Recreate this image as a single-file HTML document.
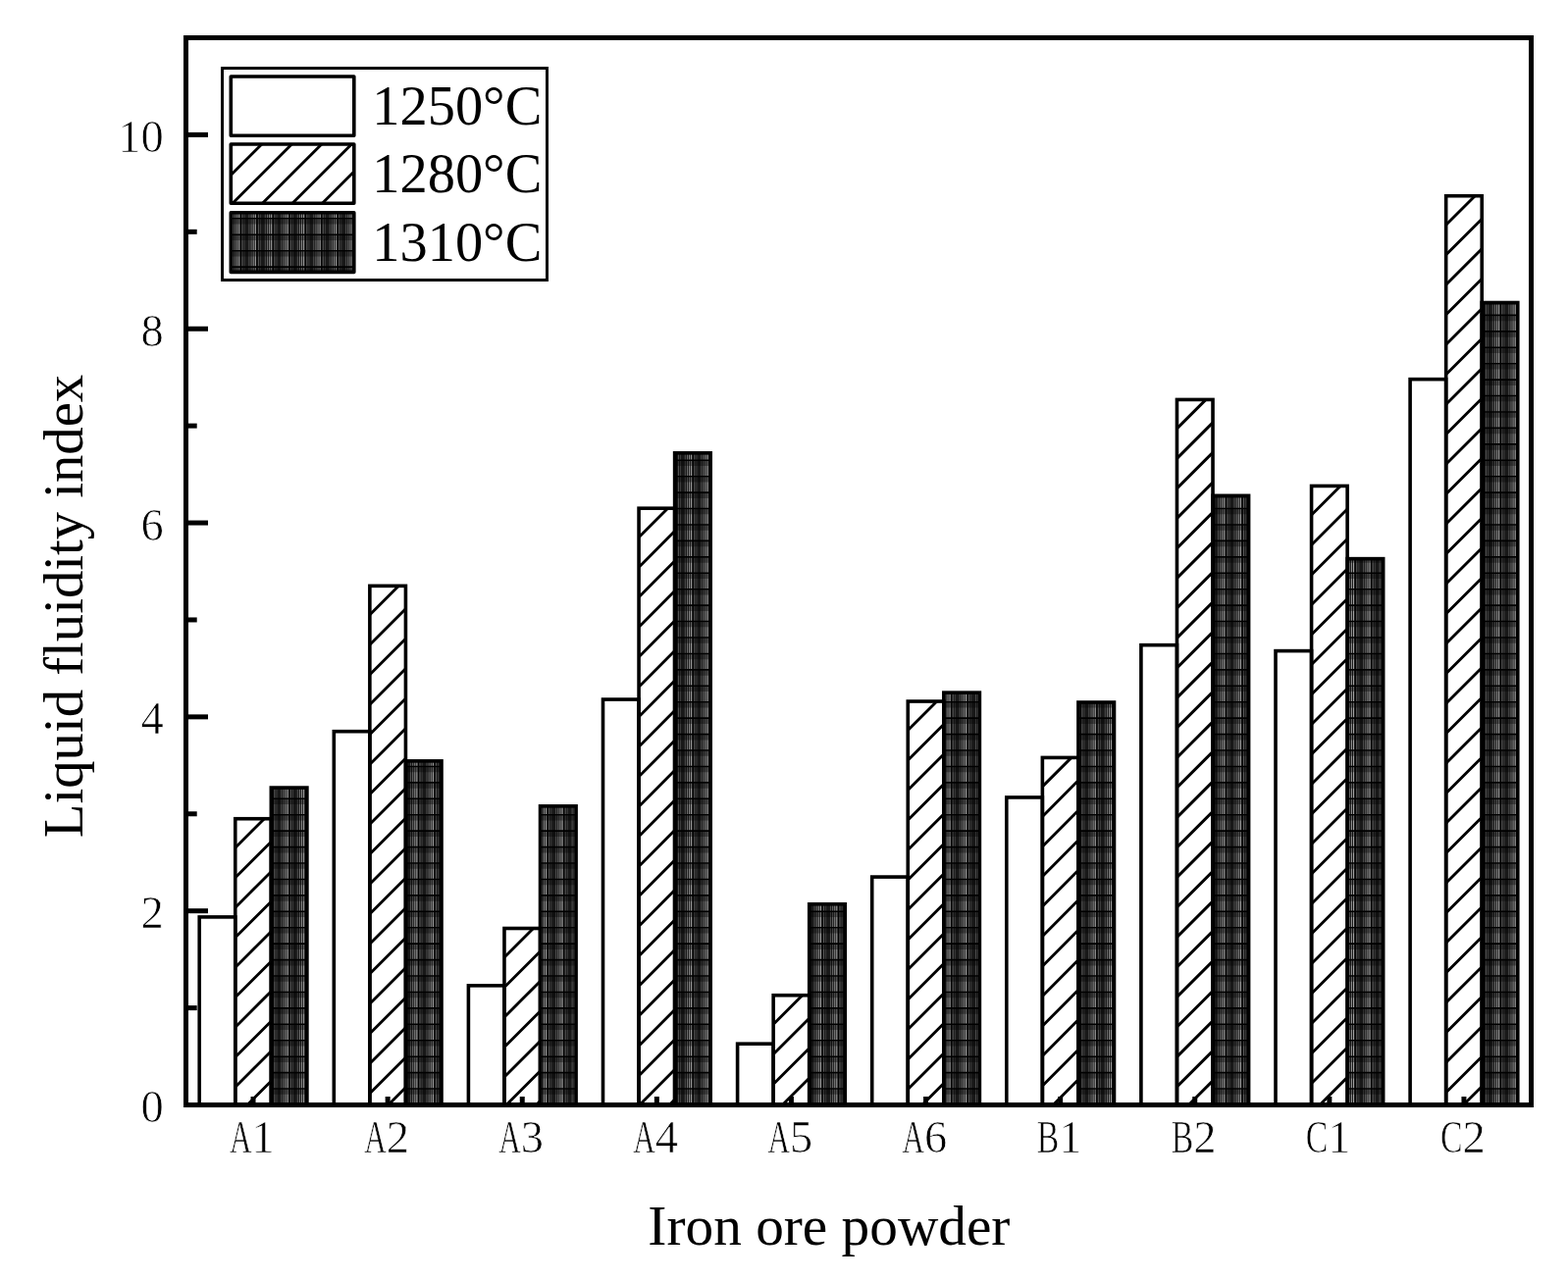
<!DOCTYPE html>
<html><head><meta charset="utf-8"><title>Liquid fluidity index</title>
<style>
html,body{margin:0;padding:0;background:#fff;}
body{width:1598px;height:1306px;overflow:hidden;}
svg{display:block;}
text{font-family:"Liberation Serif","Times New Roman",serif;fill:#000;}
.tk{font-size:46.5px;stroke:#fff;stroke-width:0.7px;}
.lb{font-size:56.7px;}
.lg{font-size:56.4px;}
</style></head><body>
<svg width="1598" height="1306" viewBox="0 0 1598 1306">
<rect width="1598" height="1306" fill="#fff"/>

<rect x="226.5" y="69.5" width="331" height="216" fill="#fff" stroke="#000" stroke-width="3"/>
<path d="M239.8 864.2L269.3 834.7M239.8 894.7L276.3 858.2M239.8 925.2L276.3 888.7M239.8 955.7L276.3 919.2M239.8 986.2L276.3 949.7M239.8 1016.7L276.3 980.2M239.8 1047.2L276.3 1010.7M239.8 1077.7L276.3 1041.2M239.8 1108.2L276.3 1071.7M252.0 1126.5L276.3 1102.2" stroke="#000" stroke-width="2.9" fill="none"/>
<path d="M376.9 626.8L406.4 597.3M376.9 657.3L413.4 620.8M376.9 687.8L413.4 651.3M376.9 718.3L413.4 681.8M376.9 748.8L413.4 712.3M376.9 779.3L413.4 742.8M376.9 809.8L413.4 773.3M376.9 840.3L413.4 803.8M376.9 870.8L413.4 834.3M376.9 901.3L413.4 864.8M376.9 931.8L413.4 895.3M376.9 962.3L413.4 925.8M376.9 992.8L413.4 956.3M376.9 1023.3L413.4 986.8M376.9 1053.8L413.4 1017.3M376.9 1084.3L413.4 1047.8M376.9 1114.8L413.4 1078.3M395.7 1126.5L413.4 1108.8" stroke="#000" stroke-width="2.9" fill="none"/>
<path d="M514.0 976.0L543.5 946.5M514.0 1006.5L550.5 969.9M514.0 1037.0L550.5 1000.4M514.0 1067.5L550.5 1030.9M514.0 1098.0L550.5 1061.4M516.0 1126.5L550.5 1091.9M546.5 1126.5L550.5 1122.4" stroke="#000" stroke-width="2.9" fill="none"/>
<path d="M651.1 547.7L680.6 518.2M651.1 578.2L687.6 541.6M651.1 608.7L687.6 572.1M651.1 639.2L687.6 602.6M651.1 669.7L687.6 633.1M651.1 700.2L687.6 663.6M651.1 730.7L687.6 694.1M651.1 761.2L687.6 724.6M651.1 791.7L687.6 755.1M651.1 822.2L687.6 785.6M651.1 852.7L687.6 816.1M651.1 883.2L687.6 846.6M651.1 913.7L687.6 877.1M651.1 944.2L687.6 907.6M651.1 974.7L687.6 938.1M651.1 1005.2L687.6 968.6M651.1 1035.7L687.6 999.1M651.1 1066.2L687.6 1029.6M651.1 1096.7L687.6 1060.1M651.8 1126.5L687.6 1090.6M682.3 1126.5L687.6 1121.1" stroke="#000" stroke-width="2.9" fill="none"/>
<path d="M788.2 1044.2L817.7 1014.7M788.2 1074.7L824.7 1038.2M788.2 1105.2L824.7 1068.7M797.4 1126.5L824.7 1099.2" stroke="#000" stroke-width="2.9" fill="none"/>
<path d="M925.3 744.5L954.8 715.0M925.3 775.0L961.8 738.5M925.3 805.5L961.8 769.0M925.3 836.0L961.8 799.5M925.3 866.5L961.8 830.0M925.3 897.0L961.8 860.5M925.3 927.5L961.8 891.0M925.3 958.0L961.8 921.5M925.3 988.5L961.8 952.0M925.3 1019.0L961.8 982.5M925.3 1049.5L961.8 1013.0M925.3 1080.0L961.8 1043.5M925.3 1110.5L961.8 1074.0M939.8 1126.5L961.8 1104.5" stroke="#000" stroke-width="2.9" fill="none"/>
<path d="M1062.4 801.9L1091.9 772.4M1062.4 832.4L1098.9 795.8M1062.4 862.9L1098.9 826.3M1062.4 893.4L1098.9 856.8M1062.4 923.9L1098.9 887.3M1062.4 954.4L1098.9 917.8M1062.4 984.9L1098.9 948.3M1062.4 1015.4L1098.9 978.8M1062.4 1045.9L1098.9 1009.3M1062.4 1076.4L1098.9 1039.8M1062.4 1106.9L1098.9 1070.3M1073.3 1126.5L1098.9 1100.8" stroke="#000" stroke-width="2.9" fill="none"/>
<path d="M1199.5 436.9L1229.0 407.4M1199.5 467.4L1236.0 430.9M1199.5 497.9L1236.0 461.4M1199.5 528.4L1236.0 491.9M1199.5 558.9L1236.0 522.4M1199.5 589.4L1236.0 552.9M1199.5 619.9L1236.0 583.4M1199.5 650.4L1236.0 613.9M1199.5 680.9L1236.0 644.4M1199.5 711.4L1236.0 674.9M1199.5 741.9L1236.0 705.4M1199.5 772.4L1236.0 735.9M1199.5 802.9L1236.0 766.4M1199.5 833.4L1236.0 796.9M1199.5 863.9L1236.0 827.4M1199.5 894.4L1236.0 857.9M1199.5 924.9L1236.0 888.4M1199.5 955.4L1236.0 918.9M1199.5 985.9L1236.0 949.4M1199.5 1016.4L1236.0 979.9M1199.5 1046.9L1236.0 1010.4M1199.5 1077.4L1236.0 1040.9M1199.5 1107.9L1236.0 1071.4M1211.4 1126.5L1236.0 1101.9" stroke="#000" stroke-width="2.9" fill="none"/>
<path d="M1336.6 525.0L1366.1 495.5M1336.6 555.5L1373.1 518.9M1336.6 586.0L1373.1 549.4M1336.6 616.5L1373.1 579.9M1336.6 647.0L1373.1 610.4M1336.6 677.5L1373.1 640.9M1336.6 708.0L1373.1 671.4M1336.6 738.5L1373.1 701.9M1336.6 769.0L1373.1 732.4M1336.6 799.5L1373.1 762.9M1336.6 830.0L1373.1 793.4M1336.6 860.5L1373.1 823.9M1336.6 891.0L1373.1 854.4M1336.6 921.5L1373.1 884.9M1336.6 952.0L1373.1 915.4M1336.6 982.5L1373.1 945.9M1336.6 1013.0L1373.1 976.4M1336.6 1043.5L1373.1 1006.9M1336.6 1074.0L1373.1 1037.4M1336.6 1104.5L1373.1 1067.9M1345.0 1126.5L1373.1 1098.4" stroke="#000" stroke-width="2.9" fill="none"/>
<path d="M1473.7 229.2L1503.2 199.7M1473.7 259.7L1510.2 223.2M1473.7 290.2L1510.2 253.7M1473.7 320.7L1510.2 284.2M1473.7 351.2L1510.2 314.7M1473.7 381.7L1510.2 345.2M1473.7 412.2L1510.2 375.7M1473.7 442.7L1510.2 406.2M1473.7 473.2L1510.2 436.7M1473.7 503.7L1510.2 467.2M1473.7 534.2L1510.2 497.7M1473.7 564.7L1510.2 528.2M1473.7 595.2L1510.2 558.7M1473.7 625.7L1510.2 589.2M1473.7 656.2L1510.2 619.7M1473.7 686.7L1510.2 650.2M1473.7 717.2L1510.2 680.7M1473.7 747.7L1510.2 711.2M1473.7 778.2L1510.2 741.7M1473.7 808.7L1510.2 772.2M1473.7 839.2L1510.2 802.7M1473.7 869.7L1510.2 833.2M1473.7 900.2L1510.2 863.7M1473.7 930.7L1510.2 894.2M1473.7 961.2L1510.2 924.7M1473.7 991.7L1510.2 955.2M1473.7 1022.2L1510.2 985.7M1473.7 1052.7L1510.2 1016.2M1473.7 1083.2L1510.2 1046.7M1473.7 1113.7L1510.2 1077.2M1491.4 1126.5L1510.2 1107.7" stroke="#000" stroke-width="2.9" fill="none"/>
<path d="M235.3 148.0L236.3 147.0M235.3 178.5L266.8 147.0M237.0 207.3L297.3 147.0M267.5 207.3L327.8 147.0M298.0 207.3L358.3 147.0M328.5 207.3L360.8 175.0M359.0 207.3L360.8 205.5" stroke="#000" stroke-width="2.9" fill="none"/>
<clipPath id="dk"><rect x="276.33" y="803.07" width="36.56" height="323.43"/><rect x="413.43" y="775.87" width="36.56" height="350.63"/><rect x="550.53" y="821.86" width="36.56" height="304.64"/><rect x="687.63" y="461.83" width="36.56" height="664.67"/><rect x="824.73" y="921.76" width="36.56" height="204.74"/><rect x="961.83" y="706.14" width="36.56" height="420.36"/><rect x="1098.93" y="716.03" width="36.56" height="410.47"/><rect x="1236.03" y="505.35" width="36.56" height="621.15"/><rect x="1373.13" y="569.64" width="36.56" height="556.86"/><rect x="1510.23" y="308.52" width="36.56" height="817.98"/><rect x="235.30" y="216.80" width="125.50" height="60.60"/></clipPath>
<g clip-path="url(#dk)">
<rect x="189.5" y="38.5" width="1371.0" height="1088.0" fill="#181818"/>
<path d="M181.10 38.5V1126.5M197.56 38.5V1126.5M214.02 38.5V1126.5M230.48 38.5V1126.5M246.94 38.5V1126.5M263.40 38.5V1126.5M279.86 38.5V1126.5M296.32 38.5V1126.5M312.78 38.5V1126.5M329.24 38.5V1126.5M345.70 38.5V1126.5M362.16 38.5V1126.5M378.62 38.5V1126.5M395.08 38.5V1126.5M411.54 38.5V1126.5M428.00 38.5V1126.5M444.46 38.5V1126.5M460.92 38.5V1126.5M477.38 38.5V1126.5M493.84 38.5V1126.5M510.30 38.5V1126.5M526.76 38.5V1126.5M543.22 38.5V1126.5M559.68 38.5V1126.5M576.14 38.5V1126.5M592.60 38.5V1126.5M609.06 38.5V1126.5M625.52 38.5V1126.5M641.98 38.5V1126.5M658.44 38.5V1126.5M674.90 38.5V1126.5M691.36 38.5V1126.5M707.82 38.5V1126.5M724.28 38.5V1126.5M740.74 38.5V1126.5M757.20 38.5V1126.5M773.66 38.5V1126.5M790.12 38.5V1126.5M806.58 38.5V1126.5M823.04 38.5V1126.5M839.50 38.5V1126.5M855.96 38.5V1126.5M872.42 38.5V1126.5M888.88 38.5V1126.5M905.34 38.5V1126.5M921.80 38.5V1126.5M938.26 38.5V1126.5M954.72 38.5V1126.5M971.18 38.5V1126.5M987.64 38.5V1126.5M1004.10 38.5V1126.5M1020.56 38.5V1126.5M1037.02 38.5V1126.5M1053.48 38.5V1126.5M1069.94 38.5V1126.5M1086.40 38.5V1126.5M1102.86 38.5V1126.5M1119.32 38.5V1126.5M1135.78 38.5V1126.5M1152.24 38.5V1126.5M1168.70 38.5V1126.5M1185.16 38.5V1126.5M1201.62 38.5V1126.5M1218.08 38.5V1126.5M1234.54 38.5V1126.5M1251.00 38.5V1126.5M1267.46 38.5V1126.5M1283.92 38.5V1126.5M1300.38 38.5V1126.5M1316.84 38.5V1126.5M1333.30 38.5V1126.5M1349.76 38.5V1126.5M1366.22 38.5V1126.5M1382.68 38.5V1126.5M1399.14 38.5V1126.5M1415.60 38.5V1126.5M1432.06 38.5V1126.5M1448.52 38.5V1126.5M1464.98 38.5V1126.5M1481.44 38.5V1126.5M1497.90 38.5V1126.5M1514.36 38.5V1126.5M1530.82 38.5V1126.5M1547.28 38.5V1126.5" stroke="#5a5a5a" stroke-width="1.05" fill="none"/>
<path d="M183.26 38.5V1126.5M199.72 38.5V1126.5M216.18 38.5V1126.5M232.64 38.5V1126.5M249.10 38.5V1126.5M265.56 38.5V1126.5M282.02 38.5V1126.5M298.48 38.5V1126.5M314.94 38.5V1126.5M331.40 38.5V1126.5M347.86 38.5V1126.5M364.32 38.5V1126.5M380.78 38.5V1126.5M397.24 38.5V1126.5M413.70 38.5V1126.5M430.16 38.5V1126.5M446.62 38.5V1126.5M463.08 38.5V1126.5M479.54 38.5V1126.5M496.00 38.5V1126.5M512.46 38.5V1126.5M528.92 38.5V1126.5M545.38 38.5V1126.5M561.84 38.5V1126.5M578.30 38.5V1126.5M594.76 38.5V1126.5M611.22 38.5V1126.5M627.68 38.5V1126.5M644.14 38.5V1126.5M660.60 38.5V1126.5M677.06 38.5V1126.5M693.52 38.5V1126.5M709.98 38.5V1126.5M726.44 38.5V1126.5M742.90 38.5V1126.5M759.36 38.5V1126.5M775.82 38.5V1126.5M792.28 38.5V1126.5M808.74 38.5V1126.5M825.20 38.5V1126.5M841.66 38.5V1126.5M858.12 38.5V1126.5M874.58 38.5V1126.5M891.04 38.5V1126.5M907.50 38.5V1126.5M923.96 38.5V1126.5M940.42 38.5V1126.5M956.88 38.5V1126.5M973.34 38.5V1126.5M989.80 38.5V1126.5M1006.26 38.5V1126.5M1022.72 38.5V1126.5M1039.18 38.5V1126.5M1055.64 38.5V1126.5M1072.10 38.5V1126.5M1088.56 38.5V1126.5M1105.02 38.5V1126.5M1121.48 38.5V1126.5M1137.94 38.5V1126.5M1154.40 38.5V1126.5M1170.86 38.5V1126.5M1187.32 38.5V1126.5M1203.78 38.5V1126.5M1220.24 38.5V1126.5M1236.70 38.5V1126.5M1253.16 38.5V1126.5M1269.62 38.5V1126.5M1286.08 38.5V1126.5M1302.54 38.5V1126.5M1319.00 38.5V1126.5M1335.46 38.5V1126.5M1351.92 38.5V1126.5M1368.38 38.5V1126.5M1384.84 38.5V1126.5M1401.30 38.5V1126.5M1417.76 38.5V1126.5M1434.22 38.5V1126.5M1450.68 38.5V1126.5M1467.14 38.5V1126.5M1483.60 38.5V1126.5M1500.06 38.5V1126.5M1516.52 38.5V1126.5M1532.98 38.5V1126.5M1549.44 38.5V1126.5" stroke="#3c3c3c" stroke-width="1.05" fill="none"/>
<path d="M188.06 38.5V1126.5M204.52 38.5V1126.5M220.98 38.5V1126.5M237.44 38.5V1126.5M253.90 38.5V1126.5M270.36 38.5V1126.5M286.82 38.5V1126.5M303.28 38.5V1126.5M319.74 38.5V1126.5M336.20 38.5V1126.5M352.66 38.5V1126.5M369.12 38.5V1126.5M385.58 38.5V1126.5M402.04 38.5V1126.5M418.50 38.5V1126.5M434.96 38.5V1126.5M451.42 38.5V1126.5M467.88 38.5V1126.5M484.34 38.5V1126.5M500.80 38.5V1126.5M517.26 38.5V1126.5M533.72 38.5V1126.5M550.18 38.5V1126.5M566.64 38.5V1126.5M583.10 38.5V1126.5M599.56 38.5V1126.5M616.02 38.5V1126.5M632.48 38.5V1126.5M648.94 38.5V1126.5M665.40 38.5V1126.5M681.86 38.5V1126.5M698.32 38.5V1126.5M714.78 38.5V1126.5M731.24 38.5V1126.5M747.70 38.5V1126.5M764.16 38.5V1126.5M780.62 38.5V1126.5M797.08 38.5V1126.5M813.54 38.5V1126.5M830.00 38.5V1126.5M846.46 38.5V1126.5M862.92 38.5V1126.5M879.38 38.5V1126.5M895.84 38.5V1126.5M912.30 38.5V1126.5M928.76 38.5V1126.5M945.22 38.5V1126.5M961.68 38.5V1126.5M978.14 38.5V1126.5M994.60 38.5V1126.5M1011.06 38.5V1126.5M1027.52 38.5V1126.5M1043.98 38.5V1126.5M1060.44 38.5V1126.5M1076.90 38.5V1126.5M1093.36 38.5V1126.5M1109.82 38.5V1126.5M1126.28 38.5V1126.5M1142.74 38.5V1126.5M1159.20 38.5V1126.5M1175.66 38.5V1126.5M1192.12 38.5V1126.5M1208.58 38.5V1126.5M1225.04 38.5V1126.5M1241.50 38.5V1126.5M1257.96 38.5V1126.5M1274.42 38.5V1126.5M1290.88 38.5V1126.5M1307.34 38.5V1126.5M1323.80 38.5V1126.5M1340.26 38.5V1126.5M1356.72 38.5V1126.5M1373.18 38.5V1126.5M1389.64 38.5V1126.5M1406.10 38.5V1126.5M1422.56 38.5V1126.5M1439.02 38.5V1126.5M1455.48 38.5V1126.5M1471.94 38.5V1126.5M1488.40 38.5V1126.5M1504.86 38.5V1126.5M1521.32 38.5V1126.5M1537.78 38.5V1126.5M1554.24 38.5V1126.5" stroke="#505050" stroke-width="1.05" fill="none"/>
<path d="M190.26 38.5V1126.5M206.72 38.5V1126.5M223.18 38.5V1126.5M239.64 38.5V1126.5M256.10 38.5V1126.5M272.56 38.5V1126.5M289.02 38.5V1126.5M305.48 38.5V1126.5M321.94 38.5V1126.5M338.40 38.5V1126.5M354.86 38.5V1126.5M371.32 38.5V1126.5M387.78 38.5V1126.5M404.24 38.5V1126.5M420.70 38.5V1126.5M437.16 38.5V1126.5M453.62 38.5V1126.5M470.08 38.5V1126.5M486.54 38.5V1126.5M503.00 38.5V1126.5M519.46 38.5V1126.5M535.92 38.5V1126.5M552.38 38.5V1126.5M568.84 38.5V1126.5M585.30 38.5V1126.5M601.76 38.5V1126.5M618.22 38.5V1126.5M634.68 38.5V1126.5M651.14 38.5V1126.5M667.60 38.5V1126.5M684.06 38.5V1126.5M700.52 38.5V1126.5M716.98 38.5V1126.5M733.44 38.5V1126.5M749.90 38.5V1126.5M766.36 38.5V1126.5M782.82 38.5V1126.5M799.28 38.5V1126.5M815.74 38.5V1126.5M832.20 38.5V1126.5M848.66 38.5V1126.5M865.12 38.5V1126.5M881.58 38.5V1126.5M898.04 38.5V1126.5M914.50 38.5V1126.5M930.96 38.5V1126.5M947.42 38.5V1126.5M963.88 38.5V1126.5M980.34 38.5V1126.5M996.80 38.5V1126.5M1013.26 38.5V1126.5M1029.72 38.5V1126.5M1046.18 38.5V1126.5M1062.64 38.5V1126.5M1079.10 38.5V1126.5M1095.56 38.5V1126.5M1112.02 38.5V1126.5M1128.48 38.5V1126.5M1144.94 38.5V1126.5M1161.40 38.5V1126.5M1177.86 38.5V1126.5M1194.32 38.5V1126.5M1210.78 38.5V1126.5M1227.24 38.5V1126.5M1243.70 38.5V1126.5M1260.16 38.5V1126.5M1276.62 38.5V1126.5M1293.08 38.5V1126.5M1309.54 38.5V1126.5M1326.00 38.5V1126.5M1342.46 38.5V1126.5M1358.92 38.5V1126.5M1375.38 38.5V1126.5M1391.84 38.5V1126.5M1408.30 38.5V1126.5M1424.76 38.5V1126.5M1441.22 38.5V1126.5M1457.68 38.5V1126.5M1474.14 38.5V1126.5M1490.60 38.5V1126.5M1507.06 38.5V1126.5M1523.52 38.5V1126.5M1539.98 38.5V1126.5M1556.44 38.5V1126.5" stroke="#6c6c6c" stroke-width="1.05" fill="none"/>
<path d="M192.36 38.5V1126.5M208.82 38.5V1126.5M225.28 38.5V1126.5M241.74 38.5V1126.5M258.20 38.5V1126.5M274.66 38.5V1126.5M291.12 38.5V1126.5M307.58 38.5V1126.5M324.04 38.5V1126.5M340.50 38.5V1126.5M356.96 38.5V1126.5M373.42 38.5V1126.5M389.88 38.5V1126.5M406.34 38.5V1126.5M422.80 38.5V1126.5M439.26 38.5V1126.5M455.72 38.5V1126.5M472.18 38.5V1126.5M488.64 38.5V1126.5M505.10 38.5V1126.5M521.56 38.5V1126.5M538.02 38.5V1126.5M554.48 38.5V1126.5M570.94 38.5V1126.5M587.40 38.5V1126.5M603.86 38.5V1126.5M620.32 38.5V1126.5M636.78 38.5V1126.5M653.24 38.5V1126.5M669.70 38.5V1126.5M686.16 38.5V1126.5M702.62 38.5V1126.5M719.08 38.5V1126.5M735.54 38.5V1126.5M752.00 38.5V1126.5M768.46 38.5V1126.5M784.92 38.5V1126.5M801.38 38.5V1126.5M817.84 38.5V1126.5M834.30 38.5V1126.5M850.76 38.5V1126.5M867.22 38.5V1126.5M883.68 38.5V1126.5M900.14 38.5V1126.5M916.60 38.5V1126.5M933.06 38.5V1126.5M949.52 38.5V1126.5M965.98 38.5V1126.5M982.44 38.5V1126.5M998.90 38.5V1126.5M1015.36 38.5V1126.5M1031.82 38.5V1126.5M1048.28 38.5V1126.5M1064.74 38.5V1126.5M1081.20 38.5V1126.5M1097.66 38.5V1126.5M1114.12 38.5V1126.5M1130.58 38.5V1126.5M1147.04 38.5V1126.5M1163.50 38.5V1126.5M1179.96 38.5V1126.5M1196.42 38.5V1126.5M1212.88 38.5V1126.5M1229.34 38.5V1126.5M1245.80 38.5V1126.5M1262.26 38.5V1126.5M1278.72 38.5V1126.5M1295.18 38.5V1126.5M1311.64 38.5V1126.5M1328.10 38.5V1126.5M1344.56 38.5V1126.5M1361.02 38.5V1126.5M1377.48 38.5V1126.5M1393.94 38.5V1126.5M1410.40 38.5V1126.5M1426.86 38.5V1126.5M1443.32 38.5V1126.5M1459.78 38.5V1126.5M1476.24 38.5V1126.5M1492.70 38.5V1126.5M1509.16 38.5V1126.5M1525.62 38.5V1126.5M1542.08 38.5V1126.5M1558.54 38.5V1126.5" stroke="#8e8e8e" stroke-width="1.05" fill="none"/>
<path d="M194.46 38.5V1126.5M210.92 38.5V1126.5M227.38 38.5V1126.5M243.84 38.5V1126.5M260.30 38.5V1126.5M276.76 38.5V1126.5M293.22 38.5V1126.5M309.68 38.5V1126.5M326.14 38.5V1126.5M342.60 38.5V1126.5M359.06 38.5V1126.5M375.52 38.5V1126.5M391.98 38.5V1126.5M408.44 38.5V1126.5M424.90 38.5V1126.5M441.36 38.5V1126.5M457.82 38.5V1126.5M474.28 38.5V1126.5M490.74 38.5V1126.5M507.20 38.5V1126.5M523.66 38.5V1126.5M540.12 38.5V1126.5M556.58 38.5V1126.5M573.04 38.5V1126.5M589.50 38.5V1126.5M605.96 38.5V1126.5M622.42 38.5V1126.5M638.88 38.5V1126.5M655.34 38.5V1126.5M671.80 38.5V1126.5M688.26 38.5V1126.5M704.72 38.5V1126.5M721.18 38.5V1126.5M737.64 38.5V1126.5M754.10 38.5V1126.5M770.56 38.5V1126.5M787.02 38.5V1126.5M803.48 38.5V1126.5M819.94 38.5V1126.5M836.40 38.5V1126.5M852.86 38.5V1126.5M869.32 38.5V1126.5M885.78 38.5V1126.5M902.24 38.5V1126.5M918.70 38.5V1126.5M935.16 38.5V1126.5M951.62 38.5V1126.5M968.08 38.5V1126.5M984.54 38.5V1126.5M1001.00 38.5V1126.5M1017.46 38.5V1126.5M1033.92 38.5V1126.5M1050.38 38.5V1126.5M1066.84 38.5V1126.5M1083.30 38.5V1126.5M1099.76 38.5V1126.5M1116.22 38.5V1126.5M1132.68 38.5V1126.5M1149.14 38.5V1126.5M1165.60 38.5V1126.5M1182.06 38.5V1126.5M1198.52 38.5V1126.5M1214.98 38.5V1126.5M1231.44 38.5V1126.5M1247.90 38.5V1126.5M1264.36 38.5V1126.5M1280.82 38.5V1126.5M1297.28 38.5V1126.5M1313.74 38.5V1126.5M1330.20 38.5V1126.5M1346.66 38.5V1126.5M1363.12 38.5V1126.5M1379.58 38.5V1126.5M1396.04 38.5V1126.5M1412.50 38.5V1126.5M1428.96 38.5V1126.5M1445.42 38.5V1126.5M1461.88 38.5V1126.5M1478.34 38.5V1126.5M1494.80 38.5V1126.5M1511.26 38.5V1126.5M1527.72 38.5V1126.5M1544.18 38.5V1126.5M1560.64 38.5V1126.5" stroke="#b0b0b0" stroke-width="1.05" fill="none"/>
<path d="M179.56 38.5V1126.5M196.02 38.5V1126.5M212.48 38.5V1126.5M228.94 38.5V1126.5M245.40 38.5V1126.5M261.86 38.5V1126.5M278.32 38.5V1126.5M294.78 38.5V1126.5M311.24 38.5V1126.5M327.70 38.5V1126.5M344.16 38.5V1126.5M360.62 38.5V1126.5M377.08 38.5V1126.5M393.54 38.5V1126.5M410.00 38.5V1126.5M426.46 38.5V1126.5M442.92 38.5V1126.5M459.38 38.5V1126.5M475.84 38.5V1126.5M492.30 38.5V1126.5M508.76 38.5V1126.5M525.22 38.5V1126.5M541.68 38.5V1126.5M558.14 38.5V1126.5M574.60 38.5V1126.5M591.06 38.5V1126.5M607.52 38.5V1126.5M623.98 38.5V1126.5M640.44 38.5V1126.5M656.90 38.5V1126.5M673.36 38.5V1126.5M689.82 38.5V1126.5M706.28 38.5V1126.5M722.74 38.5V1126.5M739.20 38.5V1126.5M755.66 38.5V1126.5M772.12 38.5V1126.5M788.58 38.5V1126.5M805.04 38.5V1126.5M821.50 38.5V1126.5M837.96 38.5V1126.5M854.42 38.5V1126.5M870.88 38.5V1126.5M887.34 38.5V1126.5M903.80 38.5V1126.5M920.26 38.5V1126.5M936.72 38.5V1126.5M953.18 38.5V1126.5M969.64 38.5V1126.5M986.10 38.5V1126.5M1002.56 38.5V1126.5M1019.02 38.5V1126.5M1035.48 38.5V1126.5M1051.94 38.5V1126.5M1068.40 38.5V1126.5M1084.86 38.5V1126.5M1101.32 38.5V1126.5M1117.78 38.5V1126.5M1134.24 38.5V1126.5M1150.70 38.5V1126.5M1167.16 38.5V1126.5M1183.62 38.5V1126.5M1200.08 38.5V1126.5M1216.54 38.5V1126.5M1233.00 38.5V1126.5M1249.46 38.5V1126.5M1265.92 38.5V1126.5M1282.38 38.5V1126.5M1298.84 38.5V1126.5M1315.30 38.5V1126.5M1331.76 38.5V1126.5M1348.22 38.5V1126.5M1364.68 38.5V1126.5M1381.14 38.5V1126.5M1397.60 38.5V1126.5M1414.06 38.5V1126.5M1430.52 38.5V1126.5M1446.98 38.5V1126.5M1463.44 38.5V1126.5M1479.90 38.5V1126.5M1496.36 38.5V1126.5M1512.82 38.5V1126.5M1529.28 38.5V1126.5M1545.74 38.5V1126.5" stroke="#000" stroke-width="1.1" fill="none"/>
<path d="M189.5 42.09H1560.5M189.5 58.52H1560.5M189.5 74.95H1560.5M189.5 91.38H1560.5M189.5 107.81H1560.5M189.5 124.24H1560.5M189.5 140.67H1560.5M189.5 157.10H1560.5M189.5 173.53H1560.5M189.5 189.96H1560.5M189.5 206.39H1560.5M189.5 222.82H1560.5M189.5 239.25H1560.5M189.5 255.68H1560.5M189.5 272.11H1560.5M189.5 288.54H1560.5M189.5 304.97H1560.5M189.5 321.40H1560.5M189.5 337.83H1560.5M189.5 354.26H1560.5M189.5 370.69H1560.5M189.5 387.12H1560.5M189.5 403.55H1560.5M189.5 419.98H1560.5M189.5 436.41H1560.5M189.5 452.84H1560.5M189.5 469.27H1560.5M189.5 485.70H1560.5M189.5 502.13H1560.5M189.5 518.56H1560.5M189.5 534.99H1560.5M189.5 551.42H1560.5M189.5 567.85H1560.5M189.5 584.28H1560.5M189.5 600.71H1560.5M189.5 617.14H1560.5M189.5 633.57H1560.5M189.5 650.00H1560.5M189.5 666.43H1560.5M189.5 682.86H1560.5M189.5 699.29H1560.5M189.5 715.72H1560.5M189.5 732.15H1560.5M189.5 748.58H1560.5M189.5 765.01H1560.5M189.5 781.44H1560.5M189.5 797.87H1560.5M189.5 814.30H1560.5M189.5 830.73H1560.5M189.5 847.16H1560.5M189.5 863.59H1560.5M189.5 880.02H1560.5M189.5 896.45H1560.5M189.5 912.88H1560.5M189.5 929.31H1560.5M189.5 945.74H1560.5M189.5 962.17H1560.5M189.5 978.60H1560.5M189.5 995.03H1560.5M189.5 1011.46H1560.5M189.5 1027.89H1560.5M189.5 1044.32H1560.5M189.5 1060.75H1560.5M189.5 1077.18H1560.5M189.5 1093.61H1560.5M189.5 1110.04H1560.5M189.5 1126.47H1560.5" stroke="#000" stroke-width="1.6" fill="none"/>
<path d="M189.5 45.39H1560.5M189.5 61.82H1560.5M189.5 78.25H1560.5M189.5 94.68H1560.5M189.5 111.11H1560.5M189.5 127.54H1560.5M189.5 143.97H1560.5M189.5 160.40H1560.5M189.5 176.83H1560.5M189.5 193.26H1560.5M189.5 209.69H1560.5M189.5 226.12H1560.5M189.5 242.55H1560.5M189.5 258.98H1560.5M189.5 275.41H1560.5M189.5 291.84H1560.5M189.5 308.27H1560.5M189.5 324.70H1560.5M189.5 341.13H1560.5M189.5 357.56H1560.5M189.5 373.99H1560.5M189.5 390.42H1560.5M189.5 406.85H1560.5M189.5 423.28H1560.5M189.5 439.71H1560.5M189.5 456.14H1560.5M189.5 472.57H1560.5M189.5 489.00H1560.5M189.5 505.43H1560.5M189.5 521.86H1560.5M189.5 538.29H1560.5M189.5 554.72H1560.5M189.5 571.15H1560.5M189.5 587.58H1560.5M189.5 604.01H1560.5M189.5 620.44H1560.5M189.5 636.87H1560.5M189.5 653.30H1560.5M189.5 669.73H1560.5M189.5 686.16H1560.5M189.5 702.59H1560.5M189.5 719.02H1560.5M189.5 735.45H1560.5M189.5 751.88H1560.5M189.5 768.31H1560.5M189.5 784.74H1560.5M189.5 801.17H1560.5M189.5 817.60H1560.5M189.5 834.03H1560.5M189.5 850.46H1560.5M189.5 866.89H1560.5M189.5 883.32H1560.5M189.5 899.75H1560.5M189.5 916.18H1560.5M189.5 932.61H1560.5M189.5 949.04H1560.5M189.5 965.47H1560.5M189.5 981.90H1560.5M189.5 998.33H1560.5M189.5 1014.76H1560.5M189.5 1031.19H1560.5M189.5 1047.62H1560.5M189.5 1064.05H1560.5M189.5 1080.48H1560.5M189.5 1096.91H1560.5M189.5 1113.34H1560.5M189.5 1129.77H1560.5" stroke="#000" stroke-opacity="0.35" stroke-width="5" fill="none"/>
</g>
<g fill="none" stroke="#000" stroke-width="3.6"><rect x="203.21" y="934.91" width="36.56" height="191.59"/>
<rect x="239.77" y="834.72" width="36.56" height="291.78"/>
<rect x="276.33" y="803.07" width="36.56" height="323.43"/>
<rect x="340.31" y="745.70" width="36.56" height="380.80"/>
<rect x="376.87" y="597.34" width="36.56" height="529.16"/>
<rect x="413.43" y="775.87" width="36.56" height="350.63"/>
<rect x="477.41" y="1004.84" width="36.56" height="121.66"/>
<rect x="513.97" y="946.49" width="36.56" height="180.01"/>
<rect x="550.53" y="821.86" width="36.56" height="304.64"/>
<rect x="614.51" y="713.06" width="36.56" height="413.44"/>
<rect x="651.07" y="518.21" width="36.56" height="608.29"/>
<rect x="687.63" y="461.83" width="36.56" height="664.67"/>
<rect x="751.61" y="1064.19" width="36.56" height="62.31"/>
<rect x="788.17" y="1014.73" width="36.56" height="111.77"/>
<rect x="824.73" y="921.76" width="36.56" height="204.74"/>
<rect x="888.71" y="894.06" width="36.56" height="232.44"/>
<rect x="925.27" y="715.04" width="36.56" height="411.46"/>
<rect x="961.83" y="706.14" width="36.56" height="420.36"/>
<rect x="1025.81" y="812.96" width="36.56" height="313.54"/>
<rect x="1062.37" y="772.41" width="36.56" height="354.09"/>
<rect x="1098.93" y="716.03" width="36.56" height="410.47"/>
<rect x="1162.91" y="657.67" width="36.56" height="468.83"/>
<rect x="1199.47" y="407.43" width="36.56" height="719.07"/>
<rect x="1236.03" y="505.35" width="36.56" height="621.15"/>
<rect x="1300.01" y="663.61" width="36.56" height="462.89"/>
<rect x="1336.57" y="495.46" width="36.56" height="631.04"/>
<rect x="1373.13" y="569.64" width="36.56" height="556.86"/>
<rect x="1437.11" y="386.66" width="36.56" height="739.84"/>
<rect x="1473.67" y="199.72" width="36.56" height="926.78"/>
<rect x="1510.23" y="308.52" width="36.56" height="817.98"/>
<rect x="235.3" y="78.00" width="125.5" height="60.20" stroke-linejoin="round"/>
<rect x="235.3" y="147.00" width="125.5" height="60.30" stroke-linejoin="round"/>
<rect x="235.3" y="216.80" width="125.5" height="60.60" stroke-linejoin="round"/></g>
<rect x="189.5" y="38.5" width="1371.0" height="1088.0" fill="none" stroke="#000" stroke-width="5"/>
<text class="tk" x="166.7" y="1144.10" text-anchor="end">0</text>
<line x1="189.5" x2="200.7" y1="1027.59" y2="1027.59" stroke="#000" stroke-width="5"/>
<line x1="189.5" x2="212.0" y1="928.68" y2="928.68" stroke="#000" stroke-width="5"/>
<text class="tk" x="166.7" y="946.28" text-anchor="end">2</text>
<line x1="189.5" x2="200.7" y1="829.77" y2="829.77" stroke="#000" stroke-width="5"/>
<line x1="189.5" x2="212.0" y1="730.86" y2="730.86" stroke="#000" stroke-width="5"/>
<text class="tk" x="166.7" y="748.46" text-anchor="end">4</text>
<line x1="189.5" x2="200.7" y1="631.95" y2="631.95" stroke="#000" stroke-width="5"/>
<line x1="189.5" x2="212.0" y1="533.05" y2="533.05" stroke="#000" stroke-width="5"/>
<text class="tk" x="166.7" y="550.65" text-anchor="end">6</text>
<line x1="189.5" x2="200.7" y1="434.14" y2="434.14" stroke="#000" stroke-width="5"/>
<line x1="189.5" x2="212.0" y1="335.23" y2="335.23" stroke="#000" stroke-width="5"/>
<text class="tk" x="166.7" y="352.83" text-anchor="end">8</text>
<line x1="189.5" x2="200.7" y1="236.32" y2="236.32" stroke="#000" stroke-width="5"/>
<line x1="189.5" x2="212.0" y1="137.41" y2="137.41" stroke="#000" stroke-width="5"/>
<text class="tk" x="166.7" y="155.01" text-anchor="end">10</text>
<line x1="258.05" x2="258.05" y1="1126.5" y2="1118.0" stroke="#000" stroke-width="5"/>
<text class="tk" x="234.05" y="1174.8"><tspan textLength="22.5" lengthAdjust="spacingAndGlyphs">A</tspan><tspan>1</tspan></text>
<line x1="395.15" x2="395.15" y1="1126.5" y2="1118.0" stroke="#000" stroke-width="5"/>
<text class="tk" x="371.15" y="1174.8"><tspan textLength="22.5" lengthAdjust="spacingAndGlyphs">A</tspan><tspan>2</tspan></text>
<line x1="532.25" x2="532.25" y1="1126.5" y2="1118.0" stroke="#000" stroke-width="5"/>
<text class="tk" x="508.25" y="1174.8"><tspan textLength="22.5" lengthAdjust="spacingAndGlyphs">A</tspan><tspan>3</tspan></text>
<line x1="669.35" x2="669.35" y1="1126.5" y2="1118.0" stroke="#000" stroke-width="5"/>
<text class="tk" x="645.35" y="1174.8"><tspan textLength="22.5" lengthAdjust="spacingAndGlyphs">A</tspan><tspan>4</tspan></text>
<line x1="806.45" x2="806.45" y1="1126.5" y2="1118.0" stroke="#000" stroke-width="5"/>
<text class="tk" x="782.45" y="1174.8"><tspan textLength="22.5" lengthAdjust="spacingAndGlyphs">A</tspan><tspan>5</tspan></text>
<line x1="943.55" x2="943.55" y1="1126.5" y2="1118.0" stroke="#000" stroke-width="5"/>
<text class="tk" x="919.55" y="1174.8"><tspan textLength="22.5" lengthAdjust="spacingAndGlyphs">A</tspan><tspan>6</tspan></text>
<line x1="1080.65" x2="1080.65" y1="1126.5" y2="1118.0" stroke="#000" stroke-width="5"/>
<text class="tk" x="1056.65" y="1174.8"><tspan textLength="22.5" lengthAdjust="spacingAndGlyphs">B</tspan><tspan>1</tspan></text>
<line x1="1217.75" x2="1217.75" y1="1126.5" y2="1118.0" stroke="#000" stroke-width="5"/>
<text class="tk" x="1193.75" y="1174.8"><tspan textLength="22.5" lengthAdjust="spacingAndGlyphs">B</tspan><tspan>2</tspan></text>
<line x1="1354.85" x2="1354.85" y1="1126.5" y2="1118.0" stroke="#000" stroke-width="5"/>
<text class="tk" x="1330.85" y="1174.8"><tspan textLength="22.5" lengthAdjust="spacingAndGlyphs">C</tspan><tspan>1</tspan></text>
<line x1="1491.95" x2="1491.95" y1="1126.5" y2="1118.0" stroke="#000" stroke-width="5"/>
<text class="tk" x="1467.95" y="1174.8"><tspan textLength="22.5" lengthAdjust="spacingAndGlyphs">C</tspan><tspan>2</tspan></text>
<text class="lb" style="font-size:57.3px" x="844.9" y="1268.8" text-anchor="middle">Iron ore powder</text>
<text class="lb" transform="translate(84.4,618) rotate(-90)" text-anchor="middle">Liquid fluidity index</text>
<text class="lg" x="379.3" y="127.10">1250°C</text>
<text class="lg" x="379.3" y="196.10">1280°C</text>
<text class="lg" x="379.3" y="265.90">1310°C</text>
</svg></body></html>
